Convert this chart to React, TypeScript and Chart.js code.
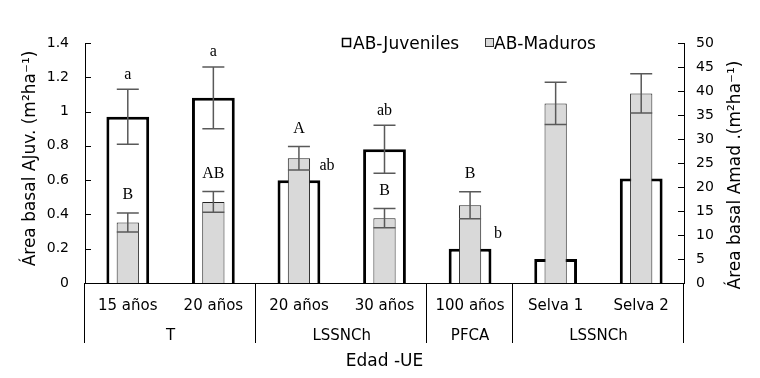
import React, { useEffect, useRef } from 'react';
import { Chart, registerables } from 'chart.js';

Chart.register(...registerables);

// ---------------- data ----------------
const categories = ['15 años', '20 años', '20 años', '30 años', '100 años', 'Selva 1', 'Selva 2'];
const groupLabels = ['T', 'LSSNCh', 'PFCA', 'LSSNCh'];
const groupFirst = [0, 2, 4, 5];
const groupLast = [1, 3, 4, 6];

const juveniles = [0.97, 1.08, 0.6, 0.78, 0.2, 0.14, 0.61];
const juvenilesErr = [0.16, 0.18, null, 0.14, null, null, null];
const juvenilesLetters = ['a', 'a', 'ab', 'ab', 'b', '', ''];
const juvenilesLetterSide = ['top', 'top', 'right', 'top', 'right', '', ''];

const maduros = [12.6, 16.9, 26.0, 13.5, 16.2, 37.4, 39.5];
const madurosErr = [2.0, 2.15, 2.45, 2.0, 2.8, 4.4, 4.1];
const madurosLetters = ['B', 'AB', 'A', 'B', 'B', '', ''];

const leftTicks = [0, 0.2, 0.4, 0.6, 0.8, 1, 1.2, 1.4];
const leftTickLabels = ['0', '0.2', '0.4', '0.6', '0.8', '1', '1.2', '1.4'];
const rightTicks = [0, 5, 10, 15, 20, 25, 30, 35, 40, 45, 50];
const rightTickLabels = ['0', '5', '10', '15', '20', '25', '30', '35', '40', '45', '50'];

const legendJuv = 'AB-Juveniles';
const legendMad = 'AB-Maduros';
const leftTitle = 'Área basal AJuv. (m²ha⁻¹)';
const rightTitle = 'Área basal Amad .(m²ha⁻¹)';
const xTitle = 'Edad -UE';

// ---------------- styles ----------------
const SANS = '"DejaVu Sans", Verdana, sans-serif';
const SERIF = '"Liberation Serif", "Times New Roman", serif';
const GRAY = '#d9d9d9';
const ERR = '#595959';

const overlay = {
  id: 'overlay',
  afterDatasetsDraw(chart: any) {
    const ctx = chart.ctx as CanvasRenderingContext2D;
    const yL = chart.scales.y;
    const yR = chart.scales.y1;
    const metaJ = chart.getDatasetMeta(0);
    const metaM = chart.getDatasetMeta(1);
    ctx.save();
    ctx.strokeStyle = ERR;
    ctx.lineWidth = 1.5;
    const cap = 11;
    const drawErr = (cx: number, v: number, e: number, s: any) => {
      const t = s.getPixelForValue(v + e);
      const b = s.getPixelForValue(v - e);
      ctx.beginPath();
      ctx.moveTo(cx, t);
      ctx.lineTo(cx, b);
      ctx.moveTo(cx - cap, t);
      ctx.lineTo(cx + cap, t);
      ctx.moveTo(cx - cap, b);
      ctx.lineTo(cx + cap, b);
      ctx.stroke();
    };
    juveniles.forEach((v, i) => {
      const e = juvenilesErr[i];
      if (e != null) drawErr(metaJ.data[i].x, v, e, yL);
    });
    maduros.forEach((v, i) => {
      const e = madurosErr[i];
      if (e != null) drawErr(metaM.data[i].x, v, e, yR);
    });

    // significance letters
    ctx.fillStyle = '#000';
    ctx.font = '16px ' + SERIF;
    ctx.textAlign = 'center';
    ctx.textBaseline = 'alphabetic';
    juvenilesLetters.forEach((t, i) => {
      if (!t) return;
      const cx = metaJ.data[i].x;
      if (juvenilesLetterSide[i] === 'right') {
        ctx.fillText(t, cx + 28, yL.getPixelForValue(juveniles[i]) - 10.5);
      } else {
        const e = juvenilesErr[i] || 0;
        ctx.fillText(t, cx, yL.getPixelForValue(juveniles[i] + e) - 10.7);
      }
    });
    madurosLetters.forEach((t, i) => {
      if (!t) return;
      const cx = metaM.data[i].x;
      const e = madurosErr[i] || 0;
      ctx.fillText(t, cx, yR.getPixelForValue(maduros[i] + e) - 13.8);
    });
    ctx.restore();
  },
  afterDraw(chart: any) {
    const ctx = chart.ctx as CanvasRenderingContext2D;
    const area = chart.chartArea;
    const x = chart.scales.x;
    const yL = chart.scales.y;
    const yR = chart.scales.y1;
    ctx.save();
    ctx.strokeStyle = '#000';
    ctx.lineWidth = 1;
    // inward ticks
    ctx.beginPath();
    leftTicks.forEach((v) => {
      const p = Math.round(yL.getPixelForValue(v)) + 0.5;
      ctx.moveTo(area.left, p);
      ctx.lineTo(area.left + 6, p);
    });
    rightTicks.forEach((v) => {
      const p = Math.round(yR.getPixelForValue(v)) + 0.5;
      ctx.moveTo(area.right - 6, p);
      ctx.lineTo(area.right, p);
    });
    ctx.stroke();

    // group separators
    const bounds: number[] = [area.left];
    groupLast.forEach((last, g) => {
      if (g < groupLast.length - 1) {
        bounds.push((x.getPixelForValue(last) + x.getPixelForValue(last + 1)) / 2);
      }
    });
    bounds.push(area.right);
    ctx.beginPath();
    bounds.forEach((b) => {
      const px = Math.round(b) - 0.5;
      ctx.moveTo(px, area.bottom);
      ctx.lineTo(px, area.bottom + 60);
    });
    ctx.stroke();

    ctx.fillStyle = '#000';
    ctx.textAlign = 'center';
    ctx.textBaseline = 'alphabetic';
    ctx.font = '15px ' + SANS;
    groupLabels.forEach((g, i) => {
      const cx = (x.getPixelForValue(groupFirst[i]) + x.getPixelForValue(groupLast[i])) / 2;
      ctx.fillText(g, cx, area.bottom + 56.5);
    });

    ctx.font = '17px ' + SANS;
    ctx.fillText(xTitle, (area.left + area.right) / 2, area.bottom + 83);

    // axis titles
    ctx.save();
    ctx.translate(35, 158.5);
    ctx.rotate(-Math.PI / 2);
    ctx.fillText(leftTitle, 0, 0);
    ctx.restore();
    ctx.save();
    ctx.translate(740, 175);
    ctx.rotate(-Math.PI / 2);
    ctx.fillText(rightTitle, 0, 0);
    ctx.restore();

    // legend
    ctx.textAlign = 'left';
    ctx.lineWidth = 1.5;
    ctx.fillStyle = '#fff';
    ctx.fillRect(342.5, 38.5, 8, 8);
    ctx.strokeStyle = '#000';
    ctx.strokeRect(342.5, 38.5, 8, 8);
    ctx.fillStyle = GRAY;
    ctx.fillRect(485.5, 38.5, 8, 8);
    ctx.lineWidth = 1;
    ctx.strokeStyle = '#333';
    ctx.strokeRect(485.5, 38.5, 8, 8);
    ctx.fillStyle = '#000';
    ctx.fillText(legendJuv, 353, 48.7);
    ctx.fillText(legendMad, 494, 48.7);
    ctx.restore();
  },
};

export default function App() {
  const ref = useRef<HTMLCanvasElement | null>(null);
  useEffect(() => {
    if (!ref.current) return;
    Chart.defaults.font.family = SANS;
    Chart.defaults.color = '#000';
    const chart = new Chart(ref.current, {
      type: 'bar',
      data: {
        labels: categories,
        datasets: [
          {
            label: legendJuv,
            data: juveniles,
            yAxisID: 'y',
            backgroundColor: '#ffffff',
            borderColor: '#000000',
            borderWidth: 3,
            borderSkipped: 'start',
            barPercentage: 0.5,
            categoryPercentage: 1,
            grouped: false,
            order: 1,
          },
          {
            label: legendMad,
            data: maduros,
            yAxisID: 'y1',
            backgroundColor: GRAY,
            borderColor: '#222222',
            borderWidth: 1,
            borderSkipped: 'start',
            barPercentage: 0.26,
            categoryPercentage: 1,
            grouped: false,
            order: 0,
          },
        ],
      },
      options: {
        responsive: false,
        animation: false,
        layout: { padding: { top: 43, left: 0, right: 0, bottom: 0 } },
        plugins: { legend: { display: false }, tooltip: { enabled: false }, title: { display: false } },
        scales: {
          x: {
            type: 'category',
            offset: true,
            grid: { display: false, drawTicks: false },
            border: { display: true, color: '#000', width: 1 },
            ticks: { font: { size: 15 }, color: '#000', padding: 14, maxRotation: 0, autoSkip: false },
            afterFit: (s: any) => {
              s.height = 95;
            },
          },
          y: {
            position: 'left',
            min: 0,
            max: 1.4,
            grid: { display: false, drawTicks: false },
            border: { display: true, color: '#000', width: 1 },
            afterBuildTicks: (s: any) => {
              s.ticks = leftTicks.map((v) => ({ value: v }));
            },
            ticks: {
              font: { size: 14 },
              color: '#000',
              padding: 16,
              callback: (_v: any, i: number) => leftTickLabels[i],
            },
            afterFit: (s: any) => {
              s.width = 85;
            },
          },
          y1: {
            position: 'right',
            min: 0,
            max: 50,
            grid: { display: false, drawTicks: false },
            border: { display: true, color: '#000', width: 1 },
            afterBuildTicks: (s: any) => {
              s.ticks = rightTicks.map((v) => ({ value: v }));
            },
            ticks: {
              font: { size: 14 },
              color: '#000',
              padding: 12,
              callback: (_v: any, i: number) => rightTickLabels[i],
            },
            afterFit: (s: any) => {
              s.width = 76;
            },
          },
        },
      },
      plugins: [overlay],
    } as any);
    return () => chart.destroy();
  }, []);
  return (
    <div style={{ position: 'absolute', left: 0, top: 0, width: 760, height: 378, background: '#fff' }}>
      <canvas ref={ref} width={760} height={378} style={{ display: 'block' }} />
    </div>
  );
}
